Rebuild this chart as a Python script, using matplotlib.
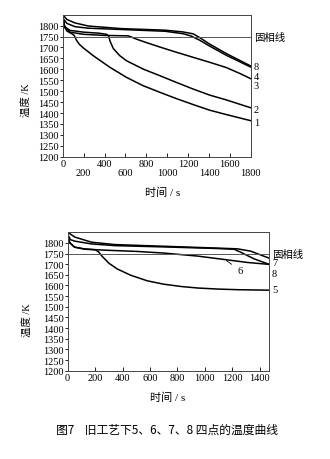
import numpy as np
import matplotlib.pyplot as plt

plt.rcParams['font.family'] = ['Liberation Serif', 'Noto Sans CJK SC', 'DejaVu Sans']
plt.rcParams['axes.unicode_minus'] = False

# Upper chart: points 1, 2, 3, 4, 8 (time s, temperature K)
t1 = [0, 15, 40, 86, 110, 133, 160, 197, 293, 452, 611, 770, 929, 1088, 1247, 1407, 1566, 1800]
T1 = [1840, 1800, 1775, 1763, 1755, 1732, 1714, 1698, 1662, 1609, 1563, 1525, 1495, 1466, 1439, 1413, 1393, 1365]
t2 = [0, 20, 70, 200, 350, 420, 440, 452, 484, 547, 611, 770, 929, 1088, 1247, 1407, 1566, 1800]
T2 = [1840, 1795, 1778, 1770, 1765, 1760, 1752, 1730, 1695, 1662, 1639, 1601, 1571, 1540, 1510, 1482, 1460, 1424]
t3 = [0, 20, 70, 200, 400, 627, 660, 706, 802, 929, 1088, 1247, 1407, 1566, 1700, 1800]
T3 = [1840, 1790, 1770, 1760, 1755, 1753, 1747, 1738, 1722, 1702, 1678, 1655, 1632, 1608, 1580, 1557]
t4 = [0, 40, 118, 245, 565, 979, 1150, 1230, 1311, 1407, 1566, 1800]
T4 = [1835, 1810, 1795, 1788, 1782, 1774, 1763, 1752, 1733, 1706, 1664, 1610]
t8 = [0, 40, 118, 245, 565, 979, 1150, 1250, 1311, 1407, 1566, 1800]
T8 = [1850, 1828, 1812, 1798, 1786, 1779, 1771, 1762, 1745, 1715, 1672, 1615]

# Lower chart: points 5, 6, 7, 8
t5 = [0, 10, 50, 120, 200, 225, 250, 300, 360, 460, 580, 700, 830, 950, 1100, 1250, 1470]
T5 = [1845, 1805, 1780, 1772, 1768, 1758, 1738, 1705, 1678, 1648, 1622, 1606, 1595, 1588, 1583, 1580, 1578]
t6 = [0, 15, 50, 126, 300, 500, 704, 947, 1141, 1311, 1470]
T6 = [1840, 1800, 1780, 1770, 1765, 1760, 1752, 1738, 1722, 1708, 1699]
t7 = [0, 53, 175, 345, 704, 1068, 1238, 1335, 1400, 1470]
T7 = [1850, 1827, 1803, 1792, 1784, 1776, 1772, 1761, 1745, 1728]
t8b = [0, 20, 53, 175, 345, 704, 1068, 1214, 1262, 1359, 1470]
T8b = [1840, 1815, 1808, 1795, 1787, 1781, 1774, 1770, 1756, 1725, 1699]

solidus = 1750
yticks = list(range(1200, 1801, 50))

fig = plt.figure(figsize=(3.3, 4.6), dpi=100)

def style(ax, xmax, xt, xlabels):
    ax.set_xlim(0, xmax)
    ax.set_ylim(1200, 1850)
    ax.set_yticks(yticks)
    ax.set_yticklabels([str(v) for v in yticks], fontsize=7.5)
    ax.set_xticks(xt)
    ax.set_xticklabels(xlabels, fontsize=7.5, linespacing=1.05)
    ax.tick_params(axis='y', direction='out', length=2.5, width=0.6, pad=0.5)
    ax.tick_params(axis='x', direction='in', length=3, width=0.6, pad=1.5)
    for s in ax.spines.values():
        s.set_linewidth(0.7)
        s.set_color('#444444')
    ax.axhline(solidus, color='#555555', lw=0.7)

lw = 1.1

# ---- upper chart
ax1 = fig.add_axes([0.190, 0.657, 0.570, 0.309])
for t, T in [(t1, T1), (t2, T2), (t3, T3), (t4, T4), (t8, T8)]:
    ax1.plot(t, T, color='black', lw=lw)
xt1 = list(range(0, 1801, 200))
xl1 = [str(v) if v % 400 == 0 else '\n' + str(v) for v in xt1]
style(ax1, 1800, xt1, xl1)
for lab, yv in [('固相线', 1750), ('8', 1615), ('4', 1569), ('3', 1528), ('2', 1418), ('1', 1359)]:
    ax1.text(1830, yv, lab, fontsize=7.5, va='center', ha='left', clip_on=False)

# ---- lower chart
ax2 = fig.add_axes([0.205, 0.192, 0.611, 0.301])
for t, T in [(t5, T5), (t6, T6), (t7, T7), (t8b, T8b)]:
    ax2.plot(t, T, color='black', lw=lw)
xt2 = list(range(0, 1401, 200))
style(ax2, 1470, xt2, [str(v) for v in xt2])
for lab, yv in [('固相线', 1750), ('7', 1710), ('8', 1654), ('5', 1579)]:
    ax2.text(1490, yv, lab, fontsize=7.5, va='center', ha='left', clip_on=False)
ax2.annotate('6', xy=(1157, 1717), xytext=(1260, 1670), fontsize=7.5,
             ha='center', va='center',
             arrowprops=dict(arrowstyle='-', color='black', lw=0.6, shrinkA=3, shrinkB=0))

# axis titles
fig.text(27 / 330, 1 - 100 / 460, '温度 /K', rotation=90, fontsize=7.5, ha='center', va='center')
fig.text(163 / 330, 1 - 193 / 460, '时间 / s', fontsize=8, ha='center', va='center')
fig.text(28 / 330, 1 - 320 / 460, '温度 /K', rotation=90, fontsize=7.5, ha='center', va='center')
fig.text(168 / 330, 1 - 398 / 460, '时间 / s', fontsize=8, ha='center', va='center')

# caption
fig.text(167 / 330, 1 - 430 / 460, '图7    旧工艺下5、6、7、8 四点的温度曲线',
         fontsize=8.5, ha='center', va='center', family=['Noto Sans CJK SC', 'DejaVu Sans'])

fig.savefig('out.png', dpi=100)
